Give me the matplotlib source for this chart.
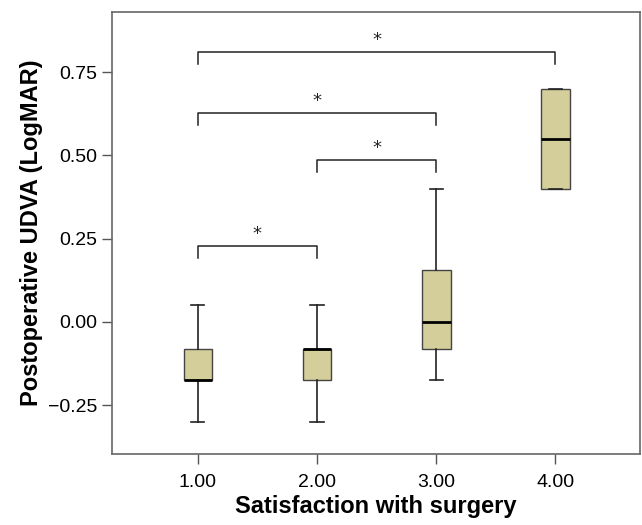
import matplotlib
matplotlib.use('Agg')
import matplotlib.pyplot as plt

plt.rcParams['font.family'] = ['Liberation Sans', 'DejaVu Sans']

# 箱线图的汇总统计值
groups = [1, 2, 3, 4]
tick_labels = ['1.00', '2.00', '3.00', '4.00']
q1 = [-0.175, -0.175, -0.08, 0.40]
med = [-0.175, -0.08, 0.00, 0.55]
q3 = [-0.08, -0.08, 0.155, 0.70]
wlo = [-0.30, -0.30, -0.175, 0.40]
whi = [0.05, 0.05, 0.40, 0.70]

# 显著性标记：(起点组, 终点组, 高度)
pairs = [(1, 4, 0.81), (1, 3, 0.627), (2, 3, 0.486), (1, 2, 0.228)]

stats = []
for i in range(len(groups)):
    stats.append({'q1': q1[i], 'med': med[i], 'q3': q3[i],
                  'whislo': wlo[i], 'whishi': whi[i], 'fliers': []})

fig = plt.figure(figsize=(6.42, 5.25), dpi=100)
ax = fig.add_axes([0.1745, 0.135, 0.8225, 0.842])

ax.bxp(stats, positions=groups, widths=0.24, patch_artist=True, showfliers=False,
       boxprops=dict(facecolor='#d4cf9a', edgecolor='#444444', linewidth=1.0),
       medianprops=dict(color='black', linewidth=2.0),
       whiskerprops=dict(color='#222222', linewidth=1.2),
       capprops=dict(color='#222222', linewidth=1.2),
       capwidths=0.11)

# 画显著性括号
drop = 0.035
for a, b, h in pairs:
    ax.plot([a, a, b, b], [h - drop, h, h, h - drop], color='#222222', linewidth=1.1)
    ax.text((a + b) / 2, h + 0.008, '*', ha='center', va='bottom', fontsize=13,
            color='#222222', family='DejaVu Sans')

ax.set_xlim(0.28, 4.71)
ax.set_ylim(-0.397, 0.93)
ax.set_xticks(groups)
ax.set_xticklabels(tick_labels)
ax.set_yticks([-0.25, 0.0, 0.25, 0.5, 0.75])
ax.set_yticklabels(['\u22120.25', '0.00', '0.25', '0.50', '0.75'])
ax.tick_params(axis='both', labelsize=14, length=7, width=1, color='#555555', direction='out')
ax.tick_params(axis='x', pad=7)

for s in ax.spines.values():
    s.set_color('#666666')
    s.set_linewidth(1.2)

ax.set_xlabel('Satisfaction with surgery', fontsize=17, fontweight='bold', labelpad=3)
ax.set_ylabel('Postoperative UDVA (LogMAR)', fontsize=17, fontweight='bold', labelpad=4)

fig.savefig('out.png', dpi=100)
